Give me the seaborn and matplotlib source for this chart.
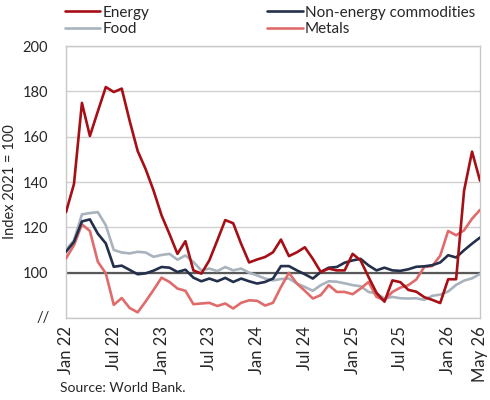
import numpy as np
import pandas as pd
import matplotlib
matplotlib.use("Agg")
import matplotlib.pyplot as plt
import seaborn as sns

sns.set_style("white")
plt.rcParams["font.family"] = ["Lato", "DejaVu Sans"]

# 월별 지수 (Jan 22 ~ May 26), 2021 = 100
months = pd.date_range("2022-01-01", "2026-05-01", freq="MS")
energy = [126.7, 139.1, 174.9, 160.3, 171.2, 181.9, 179.7, 181.2, 166.9, 153.7,
          145.7, 136.2, 125.3, 117.0, 108.3, 113.9, 101.0, 99.6, 105.4, 114.2,
          123.2, 121.8, 112.7, 104.5, 105.8, 106.9, 109.0, 114.6, 107.3, 109.0,
          111.2, 106.1, 100.3, 101.8, 101.0, 101.0, 108.3, 105.4, 98.1, 91.1,
          87.2, 96.6, 95.8, 92.4, 91.6, 89.2, 88.0, 86.6, 97.1, 97.1,
          136.2, 153.4, 140.6]
non_energy = [109.2, 113.6, 122.6, 123.5, 117.2, 112.9, 102.6, 103.1, 101.2, 99.3,
              99.7, 100.9, 102.5, 102.2, 100.3, 101.3, 97.8, 96.2, 97.4, 96.2,
              97.7, 95.9, 97.4, 96.2, 95.2, 95.9, 97.4, 102.9, 102.9, 101.0,
              99.3, 97.4, 100.3, 102.2, 102.5, 104.4, 105.4, 106.1, 103.2, 101.0,
              102.2, 101.0, 100.8, 101.5, 102.6, 102.8, 103.3, 104.5, 107.7, 106.7,
              109.9, 112.8, 115.5]
food = [110.0, 114.3, 125.7, 126.3, 126.7, 120.9, 110.0, 108.9, 108.5, 109.2,
        108.9, 107.0, 107.8, 108.3, 105.7, 107.6, 104.7, 101.0, 101.8, 100.7,
        102.5, 101.0, 101.8, 100.0, 98.8, 97.4, 96.6, 97.2, 97.4, 95.2,
        93.7, 92.0, 94.5, 96.2, 96.0, 95.3, 94.5, 94.0, 91.5, 90.8,
        88.6, 89.3, 88.7, 88.6, 88.7, 88.0, 89.8, 90.3, 91.7, 94.6,
        96.5, 97.5, 99.4]
metals = [106.3, 112.1, 121.3, 118.4, 104.8, 99.7, 85.8, 88.8, 84.4, 82.5,
          87.3, 92.4, 97.8, 95.9, 93.0, 92.0, 86.1, 86.4, 86.7, 85.3,
          86.4, 84.2, 86.7, 87.8, 87.6, 85.5, 86.7, 93.7, 99.9, 95.2,
          92.0, 88.6, 90.1, 94.5, 91.5, 91.5, 90.5, 93.0, 95.9, 89.3,
          87.9, 91.5, 93.4, 94.5, 97.0, 102.5, 102.9, 107.5, 118.4, 116.5,
          118.7, 123.8, 127.7]

tick_pos = [0, 6, 12, 18, 24, 30, 36, 42, 48, 52]
tick_labels = ["Jan 22", "Jul 22", "Jan 23", "Jul 23", "Jan 24",
               "Jul 24", "Jan 25", "Jul 25", "Jan 26", "May 26"]

series = {
    "Energy": (energy, "#A50F15"),
    "Food": (food, "#A9B3BD"),
    "Non-energy commodities": (non_energy, "#232F4B"),
    "Metals": (metals, "#E06B6B"),
}
draw_order = ["Food", "Metals", "Non-energy commodities", "Energy"]

x = np.arange(len(months))
fig = plt.figure(figsize=(4.9, 4.0), dpi=100)
ax = fig.add_axes([0.1347, 0.205, 0.8449, 0.68])

ax.axhline(100, color="#595959", lw=1.6, zorder=1)
handles = {}
for name in draw_order:
    vals, col = series[name]
    sns.lineplot(x=x, y=vals, ax=ax, color=col, lw=1.9, zorder=3)
    handles[name] = ax.lines[-1]

ax.set_xlim(0, 52)
ax.set_ylim(80, 200)
ax.set_yticks([80, 100, 120, 140, 160, 180, 200])
ax.set_yticklabels(["", "100", "120", "140", "160", "180", "200"])
ax.yaxis.grid(True, color="#D0D0D0", lw=1.0)
ax.set_axisbelow(True)
ax.set_xticks(tick_pos)
ax.set_xticklabels(tick_labels, rotation=90)
ax.tick_params(axis="x", length=4, color="#BFBFBF", labelsize=12, pad=2)
ax.tick_params(axis="y", length=0, labelsize=10.5, pad=13)
for sp in ax.spines.values():
    sp.set_color("#C8C8C8")
    sp.set_linewidth(1.0)
ax.set_ylabel("Index 2021 = 100", fontsize=10.5, labelpad=4)
ax.text(-0.04, 0.0, "//", transform=ax.transAxes, ha="right", va="center",
        fontsize=10.5)

leg_names = ["Energy", "Food", "Non-energy commodities", "Metals"]
fig.legend([handles[n] for n in leg_names], leg_names, loc="upper left",
           bbox_to_anchor=(0.104, 1.02), ncol=2, frameon=False,
           fontsize=11, handlelength=2.3, handletextpad=0.15,
           columnspacing=7.75, labelspacing=0.15)

fig.text(0.122, 0.02, "Source: World Bank.", fontsize=10)
fig.savefig("out.png", dpi=100)
